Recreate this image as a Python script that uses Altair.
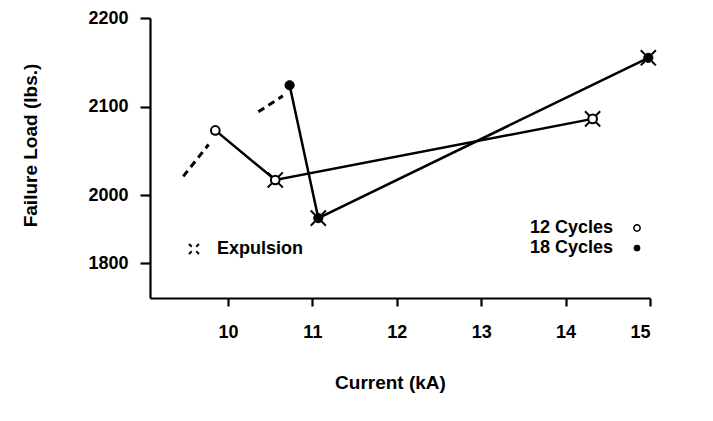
import altair as alt
import pandas as pd

# ---- data ----
cyc12_current = [9.85, 10.56, 14.32]
cyc12_load = [2073, 2017, 2086]
cyc12_expulsion = [False, True, True]

cyc18_current = [10.73, 11.07, 14.98]
cyc18_load = [2124, 1932, 2155]
cyc18_expulsion = [False, True, True]

dash12_current = [9.47, 9.77]
dash12_load = [2021, 2057]
dash18_current = [10.36, 10.65]
dash18_load = [2094, 2112]

x_ticks = [10, 11, 12, 13, 14, 15]
y_ticks = [1800, 2000, 2100, 2200]

# the printed axis is not evenly spaced: piecewise scale through the printed tick positions
y_scale_domain = [1697, 1800, 2000, 2200]

FONT = "Liberation Sans"
SPIKES = "M-1,-1L-0.45,-0.45M1,-1L0.45,-0.45M-1,1L-0.45,0.45M1,1L0.45,0.45"

W, H = 500, 280

pts = pd.DataFrame({
    "current": cyc12_current + cyc18_current,
    "load": cyc12_load + cyc18_load,
    "series": ["12"] * len(cyc12_current) + ["18"] * len(cyc18_current),
    "expulsion": cyc12_expulsion + cyc18_expulsion,
})
dashes = pd.DataFrame({
    "current": dash12_current + dash18_current,
    "load": dash12_load + dash18_load,
    "series": ["12"] * len(dash12_current) + ["18"] * len(dash18_current),
})

x_enc = alt.X("current:Q", scale=alt.Scale(domain=[9.076, 15], nice=False),
              axis=alt.Axis(values=x_ticks, title="Current (kA)", format="d",
                            tickSize=8, labelPadding=17, titlePadding=32, titleX=240))
y_enc = alt.Y("load:Q",
              scale=alt.Scale(domain=y_scale_domain, range=[H, 245, 177, 0], zero=False),
              axis=alt.Axis(values=y_ticks, title="Failure Load (lbs.)", format="d",
                            tickSize=10, labelPadding=12, titlePadding=47, titleY=127))

lines = alt.Chart(pts).mark_line(color="black", strokeWidth=2.5).encode(
    x=x_enc, y=y_enc, detail="series:N")
dash_lines = alt.Chart(dashes).mark_line(color="black", strokeWidth=3, strokeDash=[7, 5]).encode(
    x="current:Q", y="load:Q", detail="series:N")
spikes = alt.Chart(pts).transform_filter("datum.expulsion").mark_point(
    shape=SPIKES, size=230, filled=False, color="black", strokeWidth=2, opacity=1).encode(
    x="current:Q", y="load:Q")
open_pts = alt.Chart(pts).transform_filter("datum.series == '12'").mark_point(
    shape="circle", size=75, filled=True, fill="white", stroke="black", strokeWidth=2, opacity=1).encode(
    x="current:Q", y="load:Q")
filled_pts = alt.Chart(pts).transform_filter("datum.series == '18'").mark_point(
    shape="circle", size=85, filled=True, fill="black", stroke="black", strokeWidth=1, opacity=1).encode(
    x="current:Q", y="load:Q")

legend_df = pd.DataFrame({"k": [0]})
def txt(s, x, y, align):
    return alt.Chart(legend_df).mark_text(text=s, font=FONT, fontSize=18, fontWeight="bold",
                                          align=align, baseline="middle", color="black").encode(
        x=alt.value(x), y=alt.value(y))

leg = [
    txt("12 Cycles", 463, 210, "right"),
    txt("18 Cycles", 463, 230, "right"),
    txt("Expulsion", 67, 231, "left"),
    alt.Chart(legend_df).mark_point(shape="circle", size=40, filled=True, fill="white", stroke="black",
                                    strokeWidth=1.5, opacity=1).encode(x=alt.value(487), y=alt.value(210)),
    alt.Chart(legend_df).mark_point(shape="circle", size=45, filled=True, fill="black",
                                    opacity=1).encode(x=alt.value(487), y=alt.value(230)),
    alt.Chart(legend_df).mark_point(shape=SPIKES, size=100, filled=False, color="black",
                                    strokeWidth=2, opacity=1).encode(x=alt.value(44), y=alt.value(231)),
]

chart = alt.layer(lines, dash_lines, spikes, open_pts, filled_pts, *leg).properties(
    width=W, height=H,
    autosize=alt.AutoSizeParams(type="none"),
    padding={"left": 142, "top": 10, "right": 55, "bottom": 115},
).configure_view(stroke=None).configure_axis(
    domainColor="black", domainWidth=2.2, tickColor="black", tickWidth=2.2,
    grid=False, labelFont=FONT, labelFontSize=18, labelFontWeight="bold", labelColor="black",
    titleFont=FONT, titleFontSize=19, titleFontWeight="bold", titleColor="black",
)

chart.save("out.html", embed_options={"renderer": "svg", "actions": False})
